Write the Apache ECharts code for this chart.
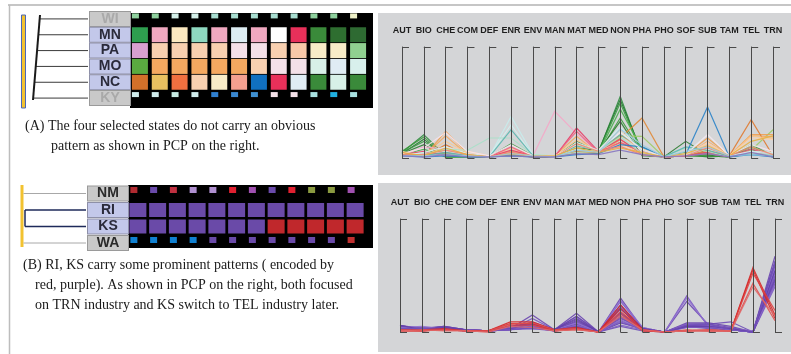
<!DOCTYPE html>
<html>
<head>
<meta charset="utf-8">
<script src="https://cdn.jsdelivr.net/npm/echarts@6/dist/echarts.min.js"></script>
<style>
  html, body { margin: 0; padding: 0; background: #ffffff; }
  #chart { width: 791px; height: 354px; }
</style>
</head>
<body>
<div id="chart"></div>
<script>
// ---- Industry axes shared by both parallel-coordinate plots ----
const industries = ['AUT','BIO','CHE','COM','DEF','ENR','ENV','MAN','MAT','MED','NON','PHA','PHO','SOF','SUB','TAM','TEL','TRN'];

// ---- Time periods (matrix columns) ----
const periods = ['1','2','3','4','5','6','7','8','9','10','11','12'];

// ---- Matrix (A): state rows, focused rows drawn as full cells ----
const statesA = ['WI','MN','PA','MO','NC','KY'];
const focusA = ['MN','PA','MO','NC'];
const cellsWI = ['#8fd19e','#8fd19e','#d5f0ea','#d5f0ea','#a8ddd0','#a8ddd0','#a8ddd0','#a8ddd0','#a8ddd0','#8fd19e','#8fd19e','#eef0c8'];
const cellsMN = ['#2e9e4f','#f0a8c0','#fbe8c0','#8ed8c0','#f0a8c0','#dcecf2','#f0a8c0','#ffffff','#e8305a','#3a8a3a','#2e6e30','#2e6a32'];
const cellsPA = ['#d8a0d0','#f8d0b0','#f8d0b0','#f8d0b0','#f8d0b0','#f4e0e8','#f4e0e8','#f8d0b0','#f8c8a8','#f8ecc8','#f8ecc8','#90d090'];
const cellsMO = ['#5aaa40','#f4a860','#f4a860','#f4a860','#f4a860','#f4a860','#f8d0b0','#f4e0e8','#f4e0e8','#d8f0e8','#e0ecf4','#d8f0ec'];
const cellsNC = ['#d2702a','#e8c060','#f07040','#f8d0b0','#f8ecc8','#f4a090','#1070c0','#e8305a','#e0ecf4','#3a8a3a','#d8f0e8','#3a8a3a'];
const cellsKY = ['#d0ecec','#d0ecec','#c8ece4','#d0ecec','#3080d0','#3a88d0','#4090d0','#f4e0e8','#f4e0e8','#a8e0e0','#20b0e0','#a8e0e0'];

// ---- Matrix (B) ----
const statesB = ['NM','RI','KS','WA'];
const focusB = ['RI','KS'];
const cellsNM = ['#b02a30','#6a4aaa','#c03040','#b090d0','#b090d0','#e02030','#a050b0','#6a4aaa','#e02030','#8a9a40','#8a9a40','#a050b0'];
const cellsRI = ['#6a4aa8','#6a4aa8','#6a4aa8','#6a4aa8','#6a4aa8','#6a4aa8','#6a4aa8','#6a4aa8','#6a4aa8','#6a4aa8','#6a4aa8','#6a4aa8'];
const cellsKS = ['#6a4aa8','#6a4aa8','#6a4aa8','#6a4aa8','#6a4aa8','#6a4aa8','#6a4aa8','#c0282c','#c0282c','#c0282c','#c0282c','#c0282c'];
const cellsWA = ['#1080d0','#1080d0','#1080d0','#1080d0','#6a4aa8','#6a4aa8','#6a4aa8','#6a4aa8','#6a4aa8','#6a4aa8','#6a4aa8','#c03030'];

// ---- PCP (A): industry shares of the selected state-periods ----
const linesA = [
  [0.05,0.21,0.02,0.02,0.01,0.04,0.02,0.01,0.12,0.05,0.555,0.03,0.01,0.02,0.02,0.01,0.06,0.02],
  [0.04,0.17,0.01,0.01,0.01,0.05,0.01,0.01,0.10,0.06,0.525,0.05,0.01,0.03,0.01,0.02,0.08,0.01],
  [0.05,0.15,0.02,0.02,0.01,0.13,0.02,0.02,0.13,0.05,0.495,0.04,0.01,0.02,0.02,0.01,0.12,0.02],
  [0.06,0.19,0.01,0.01,0.01,0.03,0.01,0.01,0.09,0.04,0.36,0.05,0.01,0.03,0.03,0.02,0.10,0.02],
  [0.04,0.12,0.01,0.02,0.01,0.06,0.02,0.01,0.15,0.06,0.33,0.02,0.01,0.15,0.03,0.01,0.06,0.01],
  [0.03,0.08,0.01,0.01,0.01,0.03,0.01,0.02,0.07,0.04,0.44,0.08,0.01,0.05,0.04,0.01,0.04,0.02],
  [0.03,0.05,0.04,0.02,0.01,0.04,0.02,0.02,0.05,0.05,0.20,0.195,0.01,0.02,0.05,0.02,0.07,0.255],
  [0.03,0.02,0.06,0.02,0.01,0.05,0.02,0.01,0.08,0.05,0.18,0.36,0.01,0.02,0.06,0.02,0.04,0.02],
  [0.05,0.01,0.24,0.04,0.01,0.03,0.01,0.01,0.05,0.04,0.21,0.08,0.01,0.03,0.18,0.02,0.21,0.21],
  [0.02,0.02,0.20,0.03,0.01,0.06,0.02,0.02,0.195,0.04,0.165,0.05,0.01,0.02,0.15,0.02,0.20,0.19],
  [0.04,0.01,0.12,0.02,0.01,0.04,0.01,0.01,0.06,0.05,0.14,0.04,0.01,0.03,0.07,0.02,0.345,0.02],
  [0.03,0.03,0.15,0.05,0.01,0.09,0.02,0.02,0.16,0.07,0.25,0.06,0.01,0.04,0.12,0.02,0.20,0.175],
  [0.06,0.02,0.10,0.06,0.02,0.07,0.03,0.02,0.10,0.08,0.12,0.05,0.01,0.03,0.14,0.02,0.18,0.165],
  [0.02,0.10,0.08,0.04,0.01,0.05,0.02,0.42,0.22,0.05,0.10,0.03,0.01,0.02,0.10,0.02,0.06,0.03],
  [0.03,0.06,0.02,0.02,0.01,0.07,0.02,0.01,0.27,0.06,0.17,0.04,0.01,0.02,0.05,0.02,0.05,0.02],
  [0.02,0.04,0.05,0.03,0.01,0.10,0.01,0.02,0.24,0.05,0.14,0.06,0.01,0.02,0.04,0.01,0.08,0.03],
  [0.03,0.04,0.06,0.03,0.01,0.375,0.03,0.02,0.08,0.06,0.24,0.07,0.01,0.03,0.08,0.02,0.05,0.04],
  [0.02,0.05,0.10,0.04,0.02,0.30,0.02,0.01,0.14,0.07,0.28,0.05,0.01,0.04,0.21,0.02,0.06,0.05],
  [0.02,0.03,0.08,0.07,0.18,0.18,0.03,0.02,0.05,0.06,0.19,0.04,0.01,0.09,0.06,0.01,0.04,0.03],
  [0.03,0.02,0.05,0.02,0.01,0.255,0.02,0.01,0.11,0.07,0.21,0.10,0.01,0.10,0.07,0.02,0.03,0.02],
  [0.02,0.01,0.02,0.01,0.01,0.02,0.01,0.01,0.03,0.04,0.12,0.10,0.01,0.03,0.46,0.01,0.03,0.01],
  [0.04,0.09,0.23,0.06,0.02,0.12,0.02,0.02,0.12,0.07,0.23,0.08,0.01,0.03,0.21,0.02,0.12,0.06],
  [0.03,0.03,0.07,0.03,0.01,0.05,0.02,0.01,0.13,0.06,0.105,0.03,0.01,0.02,0.09,0.02,0.10,0.03],
  [0.05,0.02,0.09,0.03,0.01,0.04,0.02,0.02,0.09,0.05,0.09,0.05,0.01,0.04,0.11,0.02,0.15,0.20],
  [0.02,0.02,0.03,0.02,0.01,0.04,0.02,0.01,0.07,0.05,0.26,0.12,0.01,0.06,0.10,0.02,0.03,0.02],
  [0.02,0.01,0.03,0.01,0.01,0.02,0.01,0.01,0.04,0.03,0.07,0.03,0.01,0.02,0.04,0.01,0.05,0.01]
];
const colorsA = ['#2e8b3e','#237a30','#3c9c44','#3a9a3a','#2e7d32','#4caf50','#9ccc65','#e08a38','#f0a050','#f4a860',
                 '#e07a30','#f8c890','#f8d0b0','#f4a8c8','#e8406a','#f06080','#c8ecec','#d0f0f0','#a8e0c8','#58b8b0',
                 '#2b83c8','#f6e2ea','#f08a70','#e8b040','#9ecae1','#8878c0'];

// ---- PCP (B) ----
const linesB = [
  [0.05,0.02,0.03,0.02,0.01,0.03,0.15,0.02,0.165,0,0.30,0.03,0,0.06,0.05,0.02,0,0.67],
  [0.04,0.03,0.04,0.02,0.01,0.02,0.12,0.02,0.135,0,0.27,0.03,0,0.32,0.04,0.02,0,0.61],
  [0.06,0.02,0.03,0.01,0.01,0.04,0.07,0.01,0.10,0,0.24,0.02,0,0.27,0.06,0.03,0,0.55],
  [0.03,0.03,0.05,0.02,0.01,0.03,0.09,0.02,0.08,0,0.20,0.04,0,0.07,0.07,0.09,0,0.49],
  [0.05,0.04,0.02,0.02,0.01,0.02,0.05,0.02,0.06,0,0.14,0.03,0,0.05,0.05,0.02,0,0.43],
  [0.04,0.02,0.03,0.01,0.01,0.02,0.04,0.01,0.05,0,0.10,0.02,0,0.06,0.06,0.03,0,0.40],
  [0.05,0.03,0.04,0.02,0.01,0.05,0.06,0.02,0.12,0,0.08,0.03,0,0.05,0.04,0.02,0,0.58],
  [0.03,0.02,0.02,0.01,0.01,0.03,0.03,0.01,0.04,0,0.06,0.02,0,0.04,0.05,0.03,0,0.52],
  [0.06,0.03,0.05,0.02,0.01,0.04,0.08,0.02,0.09,0,0.17,0.03,0,0.07,0.07,0.04,0,0.46],
  [0.04,0.01,0.03,0.01,0.01,0.02,0.04,0.01,0.03,0,0.05,0.01,0,0.05,0.03,0.02,0,0.45],
  [0.05,0.02,0.04,0.02,0.01,0.03,0.05,0.02,0.07,0,0.12,0.03,0,0.06,0.06,0.02,0,0.63],
  [0.03,0.03,0.03,0.01,0.01,0.02,0.03,0.02,0.05,0,0.09,0.02,0,0.04,0.04,0.03,0,0.50],
  [0.04,0.05,0.03,0.02,0.01,0.04,0.06,0.02,0.08,0,0.28,0.04,0,0.30,0.05,0.02,0,0.57],
  [0.05,0.02,0.05,0.02,0.01,0.03,0.07,0.02,0.14,0,0.22,0.03,0,0.08,0.08,0.05,0,0.47],
  [0.04,0.03,0.02,0.02,0.01,0.02,0.05,0.01,0.06,0,0.11,0.02,0,0.07,0.06,0.03,0.01,0.42],
  [0.06,0.02,0.04,0.02,0.01,0.05,0.08,0.02,0.11,0,0.16,0.03,0,0.05,0.05,0.03,0,0.54],
  [0.03,0.03,0.03,0.01,0.01,0.02,0.04,0.02,0.05,0,0.13,0.02,0,0.06,0.07,0.02,0,0.60],
  [0.01,0.01,0.02,0.01,0.01,0.09,0.09,0.02,0.04,0,0.24,0.02,0,0.01,0.01,0.01,0.57,0.15],
  [0.02,0.02,0.03,0.01,0.01,0.075,0.075,0.01,0.03,0,0.21,0.01,0,0.01,0.02,0.01,0.55,0.12],
  [0.01,0.01,0.02,0.01,0,0.06,0.06,0.01,0.02,0,0.18,0.02,0,0.02,0.01,0.01,0.52,0.19],
  [0.02,0.01,0.02,0.01,0.01,0.07,0.08,0.02,0.03,0,0.16,0.01,0,0.01,0.02,0.01,0.43,0.10],
  [0.01,0.02,0.01,0.01,0,0.05,0.04,0.01,0.02,0,0.14,0.02,0,0.01,0.01,0.01,0.40,0.14]
];
const colorsB = ['#6a46b0','#7a56c0','#6a46b0','#7050b8','#6a46b0','#7a5ac4','#6440a8','#8060c8','#6a46b0','#7050b8',
                 '#6a46b0','#7a56c0','#9070d0','#6a46b0','#8a66c8','#6440a8','#7050b8',
                 '#d62828','#d42a2a','#e04040','#e05050','#e06868'];

// ---- Caption texts ----
const captionA = ['(A) The four selected states do not carry an obvious',
                  'pattern as shown in PCP on the right.'];
const captionB = ['(B) RI, KS carry some prominent patterns ( encoded by',
                  'red, purple). As shown in PCP on the right, both focused',
                  'on TRN industry and KS switch to TEL industry later.'];

// ---------------------------------------------------------------
const chart = echarts.init(document.getElementById('chart'), null, { renderer: 'canvas' });

function matrixData(states, focus, rows, smallSize, smallOffset, bigSize) {
  const out = [];
  states.forEach((s, r) => {
    const isFocus = focus.indexOf(s) >= 0;
    rows[r].forEach((col, c) => {
      out.push({
        value: [c, r],
        symbolSize: isFocus ? bigSize : smallSize,
        symbolOffset: isFocus ? [0, 0] : smallOffset[r === 0 ? 0 : 1],
        itemStyle: { color: col, opacity: 1 }
      });
    });
  });
  return out;
}

function labelAxis(states, focus, ctxColor, gridIndex) {
  return {
    type: 'category', data: states, inverse: true, gridIndex: gridIndex,
    axisLine: { show: false }, axisTick: { show: false }, splitLine: { show: false },
    axisLabel: {
      margin: 0,
      formatter: v => (focus.indexOf(v) >= 0 ? '{f|' + v + '}' : '{c|' + v + '}'),
      rich: {
        f: { width: 40, height: 14, lineHeight: 15, align: 'center', backgroundColor: '#c3c8ea',
             borderColor: '#8e90a8', borderWidth: 1, color: '#2a2a3a', fontSize: 14,
             fontWeight: 'bold', fontFamily: 'Liberation Sans' },
        c: { width: 40, height: 14, lineHeight: 15, align: 'center', backgroundColor: '#c9c9c9',
             borderColor: '#9a9a9a', borderWidth: 1, color: ctxColor, fontSize: 14,
             fontWeight: 'bold', fontFamily: 'Liberation Sans' }
      }
    }
  };
}

// Bracket-style axes: a vertical line with short ticks at both ends pointing left
function bracketAxisStyle() {
  return {
    type: 'value', min: 0, max: 1, interval: 1,
    nameLocation: 'end', nameGap: 12,
    nameTruncate: { maxWidth: 80, ellipsis: '' },
    nameTextStyle: { fontSize: 9, fontWeight: 'bold', color: '#1e1e1e', fontFamily: 'Liberation Sans',
                     width: 30, overflow: 'none' },
    axisLine: { show: true, lineStyle: { color: '#4a4a4a', width: 1 } },
    axisTick: { show: true, inside: true, length: 7, lineStyle: { color: '#4a4a4a', width: 1 } },
    axisLabel: { show: false, inside: true, formatter: () => '' },
    splitLine: { show: false }
  };
}

const parallelAxes = [];
[0, 1].forEach(p => industries.forEach((name, d) =>
  parallelAxes.push(Object.assign(bracketAxisStyle(), { dim: d, name: name, parallelIndex: p }))));

function pcpData(lines, colors) {
  return lines.map((v, i) => ({ value: v, lineStyle: { color: colors[i] } }));
}

const serifFont = '14px "Liberation Serif", "Times New Roman", serif';
const captionGraphics = [];
captionA.forEach((t, i) => captionGraphics.push({
  id: 'capA' + i, type: 'text', x: i === 0 ? 25 : 51, y: 126 + i * 20,
  style: { text: t, font: serifFont, fill: '#1a1a1a', verticalAlign: 'middle' }
}));
captionB.forEach((t, i) => captionGraphics.push({
  id: 'capB' + i, type: 'text', x: i === 0 ? 23 : 35, y: 265 + i * 20,
  style: { text: t, font: serifFont, fill: '#1a1a1a', verticalAlign: 'middle' }
}));

const staticGraphics = [
  { id: 'frameTop', type: 'line', z: -10, shape: { x1: 8, y1: 5, x2: 791, y2: 5 }, style: { stroke: '#c6c6c6', lineWidth: 2 } },
  { id: 'frameLeft', type: 'line', z: -10, shape: { x1: 9.5, y1: 5, x2: 9.5, y2: 354 }, style: { stroke: '#bdbdbd', lineWidth: 1.5 } },
  { id: 'pcpBgA', type: 'rect', z: -10, shape: { x: 378, y: 13, width: 413, height: 162 }, style: { fill: '#d4d5d7' } },
  { id: 'pcpBgB', type: 'rect', z: -10, shape: { x: 378, y: 183, width: 413, height: 169 }, style: { fill: '#d4d5d7' } },
  { id: 'blackA', type: 'rect', z: -9, shape: { x: 130, y: 13, width: 243, height: 95 }, style: { fill: '#000000' } },
  { id: 'blackB', type: 'rect', z: -9, shape: { x: 128, y: 185, width: 245, height: 63 }, style: { fill: '#000000' } },
  { id: 'barA', type: 'rect', z: -8, shape: { x: 21.5, y: 15, width: 4, height: 93 }, style: { fill: '#f2c230', stroke: '#4a66b8', lineWidth: 1 } },
  { id: 'barB', type: 'rect', z: -8, shape: { x: 20.5, y: 185, width: 3, height: 62 }, style: { fill: '#f2c230' } }
].concat(captionGraphics);

chart.setOption({
  animation: false,
  backgroundColor: '#ffffff',
  grid: [
    { left: 130, top: 11, width: 238, height: 95 },
    { left: 128, top: 185.25, width: 237, height: 66 }
  ],
  xAxis: [
    { type: 'category', data: periods, gridIndex: 0, show: false },
    { type: 'category', data: periods, gridIndex: 1, show: false }
  ],
  yAxis: [
    labelAxis(statesA, focusA, '#a9a9a9', 0),
    labelAxis(statesB, focusB, '#2a2a2a', 1)
  ],
  parallel: [
    { left: 402, width: 371, top: 47, height: 111, layout: 'horizontal', parallelAxisDefault: bracketAxisStyle() },
    { left: 400, width: 375, top: 219, height: 113, layout: 'horizontal', parallelAxisDefault: bracketAxisStyle() }
  ],
  parallelAxis: parallelAxes,
  series: [
    { type: 'scatter', xAxisIndex: 0, yAxisIndex: 0, symbol: 'rect', silent: true, z: 3,
      itemStyle: { opacity: 1 },
      data: matrixData(statesA, focusA, [cellsWI, cellsMN, cellsPA, cellsMO, cellsNC, cellsKY], [7, 5], [[-4.5, -3], [-4.5, -3.5]], [16, 15]) },
    { type: 'scatter', xAxisIndex: 1, yAxisIndex: 1, symbol: 'rect', silent: true, z: 3,
      itemStyle: { opacity: 1 },
      data: matrixData(statesB, focusB, [cellsNM, cellsRI, cellsKS, cellsWA], [7, 6], [[-4, -3.5], [-4, -3]], [17, 14]) },
    { type: 'parallel', parallelIndex: 0, silent: true, smooth: false,
      lineStyle: { width: 1.2, opacity: 0.9 }, data: pcpData(linesA, colorsA) },
    { type: 'parallel', parallelIndex: 1, silent: true, smooth: false,
      lineStyle: { width: 1.2, opacity: 0.9 }, data: pcpData(linesB, colorsB) }
  ],
  graphic: { elements: staticGraphics }
});

// Dendrogram connectors, placed at the row centres of each matrix
const rowY = (grid, state) => chart.convertToPixel({ gridIndex: grid }, [0, state])[1];
const dendro = [];
statesA.forEach((s, i) => {
  const y = rowY(0, s);
  const t = (y - 15) / 85;
  const xv = 40 - 7 * t;
  dendro.push({ id: 'dA' + i, type: 'line', z: -7, shape: { x1: xv, y1: y, x2: 88, y2: y },
                style: { stroke: '#3a3a3a', lineWidth: 1 } });
});
dendro.push({ id: 'dAv', type: 'line', z: -7, shape: { x1: 40, y1: 15, x2: 33, y2: 100 },
              style: { stroke: '#1a1a1a', lineWidth: 2 } });
statesB.forEach((s, i) => {
  const y = rowY(1, s);
  const inCluster = focusB.indexOf(s) >= 0;
  dendro.push({ id: 'dB' + i, type: 'line', z: -7, shape: { x1: inCluster ? 25 : 23.5, y1: y, x2: 86, y2: y },
                style: { stroke: inCluster ? '#1e2a5a' : '#a8a8a8', lineWidth: inCluster ? 1.5 : 1 } });
});
dendro.push({ id: 'dBv', type: 'line', z: -7,
              shape: { x1: 25, y1: rowY(1, focusB[0]), x2: 25, y2: rowY(1, focusB[1]) },
              style: { stroke: '#1e2a5a', lineWidth: 1.5 } });
chart.setOption({ graphic: { elements: dendro } });
</script>
</body>
</html>
